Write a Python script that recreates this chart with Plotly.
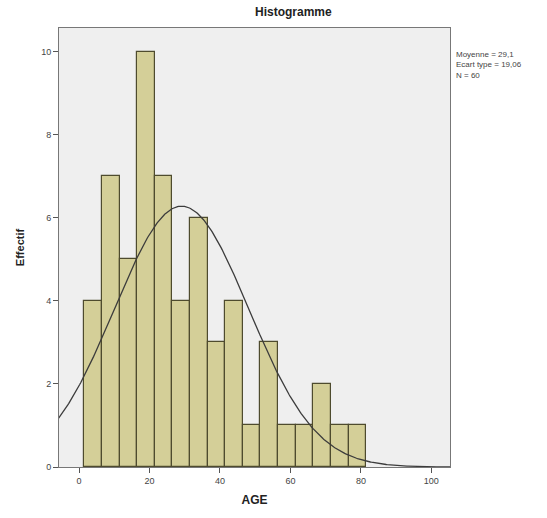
import numpy as np
import plotly.graph_objects as go

# Age distribution: 16 bins of width 5 starting at 1.5
bin_start = 1.5
bin_width = 5
counts = [4, 7, 5, 10, 7, 4, 6, 3, 4, 1, 3, 1, 1, 2, 1, 1]

mean_age = 29.1
sd_age = 19.06
n_obs = 60
x_ticks = [0, 20, 40, 60, 80, 100]
y_ticks = [0, 2, 4, 6, 8, 10]

centers = [bin_start + bin_width * (i + 0.5) for i in range(len(counts))]

# Fitted normal curve, scaled to counts per bin
xs = np.linspace(-6, 106, 400)
ys = n_obs * bin_width / (sd_age * np.sqrt(2 * np.pi)) * np.exp(-0.5 * ((xs - mean_age) / sd_age) ** 2)

fig = go.Figure()
fig.add_trace(go.Bar(
    x=centers, y=counts, width=bin_width,
    marker=dict(color="#D4CF98", line=dict(color="#4E4B2E", width=1.2)),
    hoverinfo="x+y",
))
fig.add_trace(go.Scatter(
    x=xs, y=ys, mode="lines",
    line=dict(color="#3C3C3C", width=1.3),
    hoverinfo="skip",
))

ml, mr, mt, mb = 59, 97, 28, 51
plot_w = 547 - ml - mr
plot_h = 518 - mt - mb

font_family = "Liberation Sans, Arial, sans-serif"
fig.update_layout(
    width=547, height=518,
    margin=dict(l=ml, r=mr, t=mt, b=mb),
    paper_bgcolor="white",
    plot_bgcolor="#EFEFEF",
    showlegend=False,
    bargap=0,
    font=dict(family=font_family, color="#333333", size=9),
    xaxis=dict(
        range=[-5.7, 105.3], tickvals=x_ticks, ticks="outside", ticklen=5,
        tickcolor="#555555", showgrid=False, zeroline=False,
        showline=True, linecolor="#777777", linewidth=1, mirror=True,
        tickfont=dict(size=9, color="#444444"),
        title=dict(text="<b>AGE</b>", font=dict(size=12, color="#222222"), standoff=10),
    ),
    yaxis=dict(
        range=[0, 10.57], tickvals=y_ticks, ticks="outside", ticklen=5,
        tickcolor="#555555", showgrid=False, zeroline=False,
        showline=True, linecolor="#777777", linewidth=1, mirror=True,
        tickfont=dict(size=9, color="#444444"),
        title=dict(text="<b>Effectif</b>", font=dict(size=11, color="#222222"), standoff=14),
    ),
    annotations=[
        dict(text="<b>Histogramme</b>",
             x=(293 - ml) / plot_w, y=(518 - mb - 12) / plot_h,
             xref="paper", yref="paper", yanchor="middle",
             showarrow=False, font=dict(size=12, color="#222222")),
        dict(text="Moyenne = 29,1<br>Ecart type = 19,06<br>N = 60",
             x=1.0, y=1.0, xref="paper", yref="paper", xanchor="left", yanchor="top",
             xshift=4, yshift=-20, align="left", showarrow=False,
             font=dict(size=8, color="#444444")),
    ],
)

fig.write_html("out.html")
